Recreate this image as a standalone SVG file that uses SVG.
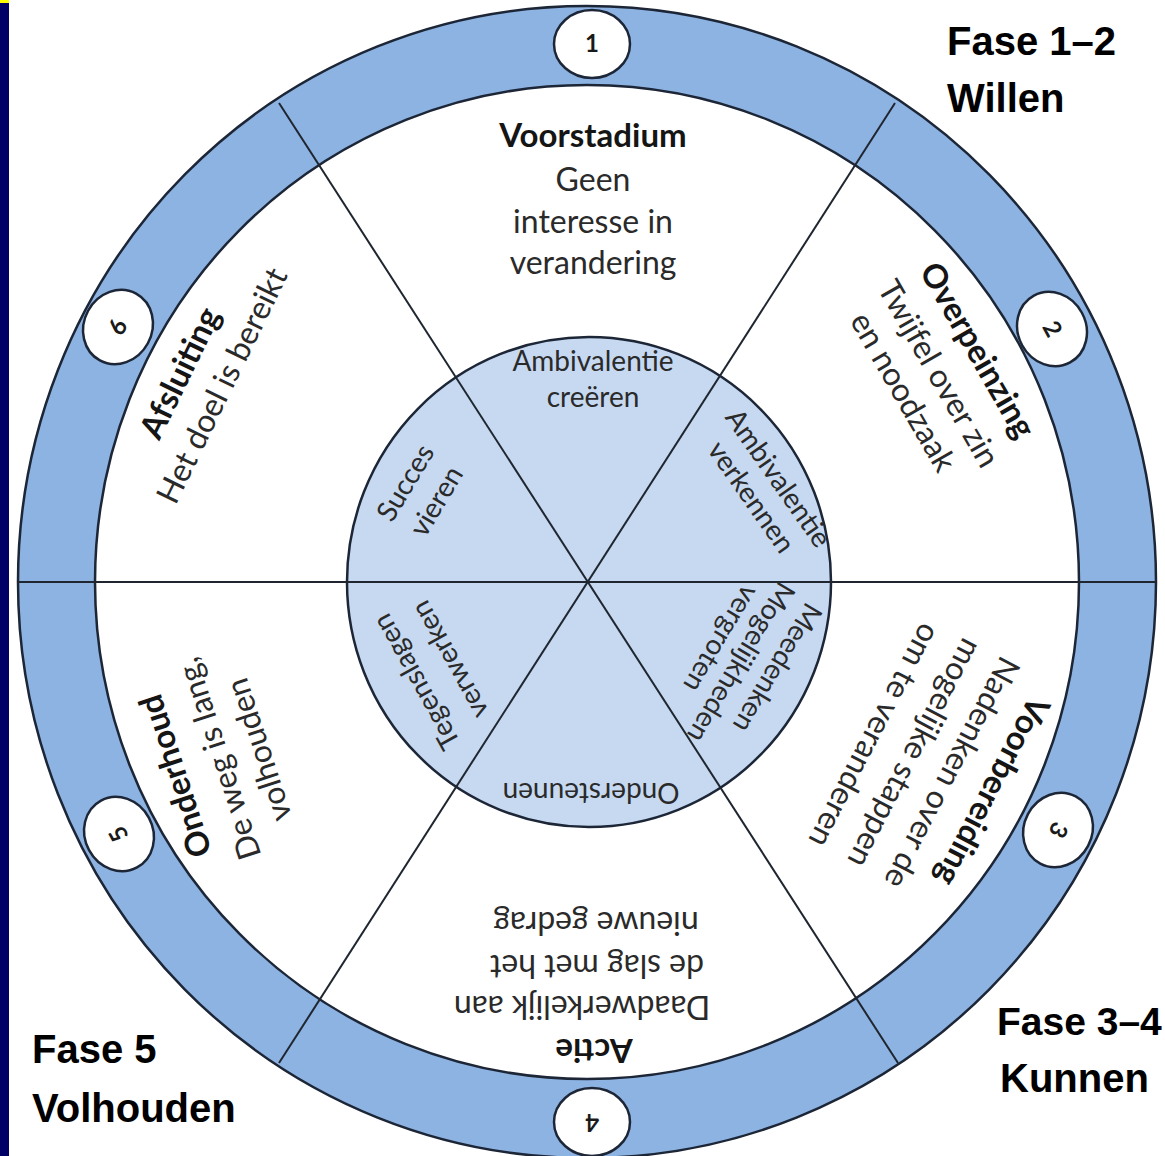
<svg xmlns="http://www.w3.org/2000/svg" width="1165" height="1156" viewBox="0 0 1165 1156">
<style>
.ring{fill:#8db3e2;stroke:#1c2636;stroke-width:2.5}
.white{fill:#ffffff;stroke:#1c2636;stroke-width:2.5}
.core{fill:#c6d9f1;stroke:#1c2636;stroke-width:2.5}
.spoke{stroke:#1f2630;stroke-width:2;fill:none}
.badge{fill:#ffffff;stroke:#1c2636;stroke-width:2.5}
.t{font-family:Lato,"Noto Sans","Liberation Sans",sans-serif;fill:#2a2a2a;text-anchor:middle}
.o{font-size:32px}
.ob{font-size:33px;font-weight:bold;fill:#151515}
.i{font-size:28px}
.n{font-size:24px;font-weight:bold;fill:#1a1a1a}
.fase{font-family:"Liberation Sans",Arial,sans-serif;font-weight:bold;font-size:40px;fill:#000}
</style>
<rect x="0" y="0" width="1165" height="1156" fill="#ffffff"/>
<rect x="0" y="0" width="9" height="1156" fill="#000066"/>
<rect x="0" y="0" width="9" height="3" fill="#ffff00"/>

<g id="wheel">
<ellipse class="ring" cx="587" cy="582" rx="569" ry="576"/>
<ellipse class="white" cx="587" cy="582" rx="492" ry="497"/>
<ellipse class="core" cx="589" cy="582" rx="242" ry="245"/>
</g>

<g id="connectors">
<line class="spoke" x1="17" y1="582" x2="1156" y2="582"/>
<line class="spoke" x1="279" y1="103" x2="898" y2="1063"/>
<line class="spoke" x1="895" y1="103" x2="279" y2="1063"/>
</g>

<g id="stage1" class="t" transform="translate(588,582)">
<text class="ob" x="5" y="-435">Voorstadium</text>
<text class="o" x="5" y="-391">Geen</text>
<text class="o" x="5" y="-349">interesse in</text>
<text class="o" x="5" y="-308">verandering</text>
</g>
<g id="stage2" class="t" transform="translate(588,582) rotate(60)">
<text class="ob" x="-6" y="-442">Overpeinzing</text>
<text class="o" x="-5" y="-397">Twijfel over zin</text>
<text class="o" x="-7" y="-357">en noodzaak</text>
</g>
<g id="stage3" class="t" transform="translate(588,582) rotate(117.5)">
<text class="ob" x="-1" y="-444">Voorbereiding</text>
<text class="o" x="1" y="-400">Nadenken over de</text>
<text class="o" x="1" y="-358">mogelijke stappen</text>
<text class="o" x="4" y="-314">om te veranderen</text>
</g>
<g id="stage4" class="t" transform="translate(588,582) rotate(180)">
<text class="ob" x="-6" y="-457">Actie</text>
<text class="o" x="6" y="-414">Daadwerkelijk aan</text>
<text class="o" x="-9" y="-373">de slag met het</text>
<text class="o" x="-8" y="-330">nieuwe gedrag</text>
</g>
<g id="stage5" class="t" transform="translate(588,582) rotate(252)">
<text class="ob" x="-57" y="-441">Onderhoud</text>
<text class="o" x="-54" y="-395">De weg is lang,</text>
<text class="o" x="-58" y="-354">volhouden</text>
</g>
<g id="stage6" class="t" transform="translate(588,582) rotate(-64)">
<text class="ob" x="9" y="-447">Afsluiting</text>
<text class="o" x="16" y="-404">Het doel is bereikt</text>
</g>

<g id="inner1" class="t" transform="translate(588,582)">
<text class="i" x="5" y="-211">Ambivalentie</text>
<text class="i" x="5" y="-175">creëren</text>
</g>
<g id="inner2" class="t" transform="translate(588,582) rotate(55)">
<text class="i" x="24" y="-206">Ambivalentie</text>
<text class="i" x="24" y="-173">verkennen</text>
</g>
<g id="inner3" class="t" transform="translate(588,582) rotate(121)">
<text class="i" x="-24" y="-197">Meedenken</text>
<text class="i" x="-10" y="-163">Mogelijkheden</text>
<text class="i" x="-20" y="-134">vergroten</text>
</g>
<g id="inner4" class="t" transform="translate(588,582) rotate(180)">
<text class="i" x="-3" y="-201">Ondersteunen</text>
</g>
<g id="inner5" class="t" transform="translate(588,582) rotate(241)">
<text class="i" x="-4" y="-189">Tegenslagen</text>
<text class="i" x="-1" y="-149">verwerken</text>
</g>
<g id="inner6" class="t" transform="translate(588,582) rotate(-59)">
<text class="i" x="-9" y="-198">Succes</text>
<text class="i" x="-9" y="-162">vieren</text>
</g>

<g id="badge1" class="t" transform="translate(592,44)">
<ellipse class="badge" rx="38" ry="34"/><text class="n" y="8">1</text>
</g>
<g id="badge2" class="t" transform="translate(1052,329) rotate(61.5)">
<ellipse class="badge" rx="38" ry="34"/><text class="n" y="8">2</text>
</g>
<g id="badge3" class="t" transform="translate(1058,830) rotate(117.8)">
<ellipse class="badge" rx="38" ry="34"/><text class="n" y="8">3</text>
</g>
<g id="badge4" class="t" transform="translate(592,1122) rotate(180)">
<ellipse class="badge" rx="38" ry="34"/><text class="n" y="8">4</text>
</g>
<g id="badge5" class="t" transform="translate(119,834) rotate(241.7)">
<ellipse class="badge" rx="38" ry="34"/><text class="n" y="8">5</text>
</g>
<g id="badge6" class="t" transform="translate(118,327) rotate(-61.5)">
<ellipse class="badge" rx="38" ry="34"/><text class="n" y="8">6</text>
</g>

<g id="fase12">
<text class="fase" x="947" y="55">Fase 1–2</text>
<text class="fase" x="947" y="112">Willen</text>
</g>
<g id="fase34">
<text class="fase" x="997" y="1035" style="font-size:39px">Fase 3–4</text>
<text class="fase" x="1000" y="1092">Kunnen</text>
</g>
<g id="fase5">
<text class="fase" x="32" y="1063">Fase 5</text>
<text class="fase" x="32" y="1122">Volhouden</text>
</g>
</svg>
